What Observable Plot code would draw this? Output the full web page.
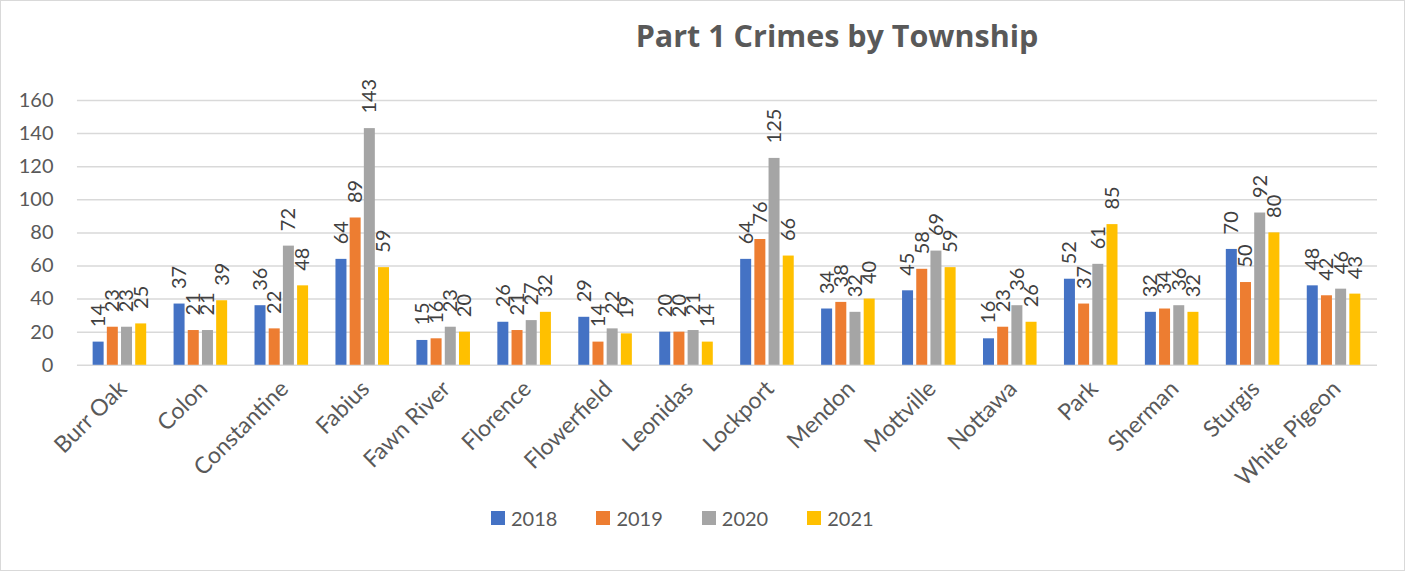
<!DOCTYPE html>
<html>
<head>
<meta charset="utf-8">
<script src="https://cdn.jsdelivr.net/npm/d3@7"></script>
<script src="https://cdn.jsdelivr.net/npm/@observablehq/plot@0.6"></script>
<style>
  html, body { margin: 0; padding: 0; background: #fff; }
  #chart { position: relative; width: 1405px; height: 571px; box-sizing: border-box; border: 1px solid #d9d9d9; font-family: Lato, "Open Sans", sans-serif; overflow: hidden; }
  #title { position: absolute; top: 13px; left: 0; width: 1672px; text-align: center; font-family: "Open Sans", Lato, sans-serif; font-weight: bold; font-size: 30.5px; color: #595959; white-space: nowrap; }
  #plot { position: absolute; top: 69px; left: -1px; }
  #legend { position: absolute; top: 505px; left: 490px; display: flex; align-items: center; font-size: 20px; color: #595959; }
  .item { display: flex; align-items: center; margin-right: 39px; }
  .sw { width: 14px; height: 14px; margin-right: 6px; }
</style>
</head>
<body>
<div id="chart">
  <div id="title">Part 1 Crimes by Township</div>
  <div id="plot"></div>
  <div id="legend"></div>
</div>
<script>
const townships = ["Burr Oak","Colon","Constantine","Fabius","Fawn River","Florence","Flowerfield","Leonidas","Lockport","Mendon","Mottville","Nottawa","Park","Sherman","Sturgis","White Pigeon"];
const years = ["2018","2019","2020","2021"];
const v2018 = [14,37,36,64,15,26,29,20,64,34,45,16,52,32,70,48];
const v2019 = [23,21,22,89,16,21,14,20,76,38,58,23,37,34,50,42];
const v2020 = [23,21,72,143,23,27,22,21,125,32,69,36,61,36,92,46];
const v2021 = [25,39,48,59,20,32,19,14,66,40,59,26,85,32,80,43];
const yTicks = [0,20,40,60,80,100,120,140,160];
const colors = ["#4472C4","#ED7D31","#A5A5A5","#FFC000"];

const series = [v2018, v2019, v2020, v2021];
const rows = [];
years.forEach((yr, k) => townships.forEach((t, i) => rows.push({township: t, year: yr, value: series[k][i]})));

const step = 14.2;
const marks = [Plot.ruleY(yTicks, {stroke: "#d9d9d9", strokeWidth: 1.5})];
years.forEach((yr, k) => {
  const sub = rows.filter(d => d.year === yr);
  const dx = (k - 1.5) * step;
  marks.push(Plot.barY(sub, {x: "township", y: "value", fill: colors[k], dx}));
});
years.forEach((yr, k) => {
  const sub = rows.filter(d => d.year === yr);
  const dx = (k - 1.5) * step;
  marks.push(Plot.text(sub, {x: "township", y: "value", text: d => String(d.value), rotate: -90, textAnchor: "start", dx, dy: -15, fontSize: 20, fill: "#404040"}));
});
marks.push(Plot.text(townships, {x: d => d, frameAnchor: "bottom", text: d => d, rotate: -45, textAnchor: "end", dx: 8, dy: 25, fontSize: 23, fill: "#595959"}));

const chart = Plot.plot({
  width: 1405,
  height: 435,
  marginLeft: 77,
  marginRight: 27,
  marginTop: 30,
  marginBottom: 140,
  style: {fontFamily: "Lato, 'Open Sans', sans-serif", fontSize: "20px", color: "#595959", background: "transparent", overflow: "visible"},
  x: {domain: townships, paddingInner: 0.86, paddingOuter: 0.43, axis: null},
  y: {domain: [0, 160], ticks: yTicks, tickSize: 0, tickPadding: 24, label: null},
  marks
});
document.getElementById("plot").appendChild(chart);

const legend = document.getElementById("legend");
years.forEach((yr, k) => {
  const it = document.createElement("div");
  it.className = "item";
  const sw = document.createElement("div");
  sw.className = "sw";
  sw.style.background = colors[k];
  const lb = document.createElement("span");
  lb.textContent = yr;
  it.appendChild(sw); it.appendChild(lb);
  legend.appendChild(it);
});
</script>
</body>
</html>
